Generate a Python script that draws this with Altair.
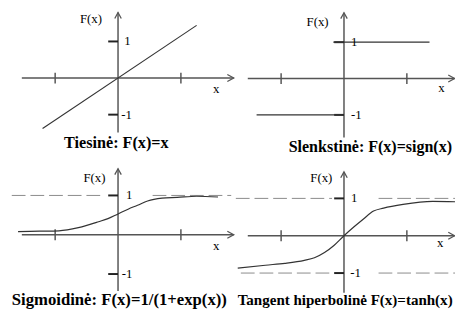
import altair as alt
import pandas as pd

# ---------------- data (function units of each panel) ----------------
PANELS = ["lin", "step", "sig", "tanh"]
TITLES = {
    "lin": "Tiesinė: F(x)=x",
    "step": "Slenkstinė: F(x)=sign(x)",
    "sig": "Sigmoidinė: F(x)=1/(1+exp(x))",
    "tanh": "Tangent hiperbolinė F(x)=tanh(x)",
}
X_TICKS = [-1, 1]
Y_TICKS = [-1, 1]
TICK_LABELS = ["-1", "1"]

# axis extents: x from, x to, y from, y to
AXIS_EXT = {
    "lin": [-1.53, 1.84, -1.49, 1.79],
    "step": [-1.53, 1.76, -1.62, 1.81],
    "sig": [-1.53, 1.84, -1.43, 1.68],
    "tanh": [-1.53, 1.76, -1.53, 1.71],
}

LIN_X = [-1.2, 1.25]
LIN_Y = [-1.38, 1.44]

STEP_X_START = [-1.39, -0.17]
STEP_X_END = [0.0, 1.36]
STEP_Y = [-1, 1]

SIG_X = [-1.59, -1.25, -0.94, -0.63, -0.31, -0.16, 0.0, 0.16, 0.31, 0.47, 0.70, 0.94, 1.25, 1.59]
SIG_Y = [0.08, 0.09, 0.10, 0.18, 0.33, 0.41, 0.53, 0.65, 0.75, 0.86, 0.93, 0.95, 0.98, 0.96]

TANH_X = [-1.69, -1.25, -0.94, -0.63, -0.47, -0.31, -0.16, 0.0, 0.16, 0.31, 0.47, 0.63, 0.94, 1.41, 1.77]
TANH_Y = [-0.87, -0.79, -0.74, -0.66, -0.59, -0.45, -0.26, 0.0, 0.24, 0.45, 0.66, 0.74, 0.84, 0.92, 0.91]

# dotted guide lines: level, x from, x to
GUIDES = {
    "sig": [(1, -1.69, -0.22), (1, 0.55, 1.80)],
    "tanh": [(1, -1.72, -0.19), (1, 0.55, 1.77), (-1, -1.64, -0.19), (-1, 0.55, 1.77)],
}

FX_LABEL_POS = {"lin": (-0.43, 1.60), "step": (-0.42, 1.54), "sig": (-0.375, 1.45), "tanh": (-0.36, 1.55)}
X_LABEL_POS = {"lin": (1.56, -0.31), "step": (1.55, -0.27), "sig": (1.56, -0.30), "tanh": (1.53, -0.21)}
TICK_LABEL_X = {"lin": [0.05, 0.10], "step": [0.11, 0.11], "sig": [0.06, 0.125], "tanh": [0.10, 0.11]}
# title: left x, middle y
TITLE_POS = {"lin": (-0.86, -1.785), "step": (-0.88, -1.89), "sig": (-1.69, -1.675), "tanh": (-1.69, -1.737)}
TITLE_SIZE = {"lin": 16.5, "step": 16.3, "sig": 17.0, "tanh": 15.3}

# ---------------- layout (scale placement) ----------------
W, H = 455, 313
LAYOUT = {  # origin in page px, px per unit
    "lin": dict(ox=120, oy=76.5, ux=64, uy=37.25),
    "step": dict(ox=350, oy=77, ux=64, uy=37),
    "sig": dict(ox=120, oy=236, ux=64, uy=40),
    "tanh": dict(ox=350, oy=237, ux=64, uy=38),
}
AXIS_COLOR = "#555555"
CURVE_COLOR = "#333333"
SERIF = "Liberation Serif"


def panel(key):
    L = LAYOUT[key]
    xdom = [(8 - L["ox"]) / L["ux"], (8 + W - L["ox"]) / L["ux"]]
    ydom = [(L["oy"] - 8 - H) / L["uy"], (L["oy"] - 8) / L["uy"]]
    xs = alt.Scale(domain=xdom, nice=False, zero=False)
    ys = alt.Scale(domain=ydom, nice=False, zero=False)

    def X(f="x"):
        return alt.X(f, type="quantitative", scale=xs, axis=None)

    def Y(f="y"):
        return alt.Y(f, type="quantitative", scale=ys, axis=None)

    x0, x1, y0, y1 = AXIS_EXT[key]
    axes = pd.DataFrame({"x": [x0, 0], "x2": [x1, 0], "y": [0, y0], "y2": [0, y1]})
    layers = [
        alt.Chart(axes).mark_rule(color=AXIS_COLOR, strokeWidth=1.5).encode(
            x=X(), x2="x2", y=Y(), y2="y2"
        ),
        # arrow heads
        alt.Chart(pd.DataFrame({"x": [x1], "y": [0]})).mark_point(
            shape="M-1,-0.55L0,0L-1,0.55", size=169, filled=False,
            color=AXIS_COLOR, strokeWidth=1.3, opacity=1
        ).encode(x=X(), y=Y()),
        alt.Chart(pd.DataFrame({"x": [0], "y": [y1]})).mark_point(
            shape="M-0.55,1L0,0L0.55,1", size=144, filled=False,
            color=AXIS_COLOR, strokeWidth=1.3, opacity=1
        ).encode(x=X(), y=Y()),
        # x ticks
        alt.Chart(pd.DataFrame({"x": X_TICKS, "y": [0] * len(X_TICKS)})).mark_point(
            shape="M0,-1L0,1", size=121, filled=False,
            color=AXIS_COLOR, strokeWidth=1.5, opacity=1
        ).encode(x=X(), y=Y()),
        # y ticks (left side)
        alt.Chart(pd.DataFrame({"x": [0] * len(Y_TICKS), "y": Y_TICKS})).mark_point(
            shape="M-1,0L0,0", size=400, filled=False,
            color="#222222", strokeWidth=2, opacity=1
        ).encode(x=X(), y=Y()),
    ]

    if key in GUIDES:
        g = pd.DataFrame(GUIDES[key], columns=["y", "x", "x2"])
        layers.append(
            alt.Chart(g).mark_rule(color="#8a8a8a", strokeWidth=1, strokeDash=[14, 5]).encode(
                x=X(), x2="x2", y=Y()
            )
        )

    if key == "lin":
        layers.append(
            alt.Chart(pd.DataFrame({"x": LIN_X, "y": LIN_Y})).mark_line(
                color=CURVE_COLOR, strokeWidth=1.1
            ).encode(x=X(), y=Y())
        )
    elif key == "step":
        layers.append(
            alt.Chart(pd.DataFrame({"x": STEP_X_START, "x2": STEP_X_END, "y": STEP_Y})).mark_rule(
                color=CURVE_COLOR, strokeWidth=1.3
            ).encode(x=X(), x2="x2", y=Y())
        )
    elif key == "sig":
        layers.append(
            alt.Chart(pd.DataFrame({"x": SIG_X, "y": SIG_Y})).mark_line(
                color=CURVE_COLOR, strokeWidth=1.2, interpolate="monotone"
            ).encode(x=X(), y=Y())
        )
    else:
        layers.append(
            alt.Chart(pd.DataFrame({"x": TANH_X, "y": TANH_Y})).mark_line(
                color=CURVE_COLOR, strokeWidth=1.2, interpolate="monotone"
            ).encode(x=X(), y=Y())
        )

    # texts
    fx = FX_LABEL_POS[key]
    xl = X_LABEL_POS[key]
    layers.append(
        alt.Chart(pd.DataFrame({"x": [fx[0], xl[0]], "y": [fx[1], xl[1]], "t": ["F(x)", "x"]}))
        .mark_text(font=SERIF, fontSize=13, color="black", align="center", baseline="middle")
        .encode(x=X(), y=Y(), text="t:N")
    )
    layers.append(
        alt.Chart(pd.DataFrame({"x": TICK_LABEL_X[key], "y": Y_TICKS, "t": TICK_LABELS}))
        .mark_text(font=SERIF, fontSize=13, color="black", align="left", baseline="middle")
        .encode(x=X(), y=Y(), text="t:N")
    )
    tp = TITLE_POS[key]
    layers.append(
        alt.Chart(pd.DataFrame({"x": [tp[0]], "y": [tp[1]], "t": [TITLES[key]]}))
        .mark_text(font=SERIF, fontSize=TITLE_SIZE[key], fontWeight="bold", color="black",
                   align="left", baseline="middle")
        .encode(x=X(), y=Y(), text="t:N")
    )
    return alt.layer(*layers)


chart = (
    alt.layer(*[panel(k) for k in PANELS])
    .resolve_scale(x="independent", y="independent")
    .properties(width=W, height=H, padding=0, autosize=alt.AutoSizeParams(type="none"),
                background="white")
    .configure_view(stroke=None)
)

chart.save("out.html", embed_options={"renderer": "svg", "actions": False})
